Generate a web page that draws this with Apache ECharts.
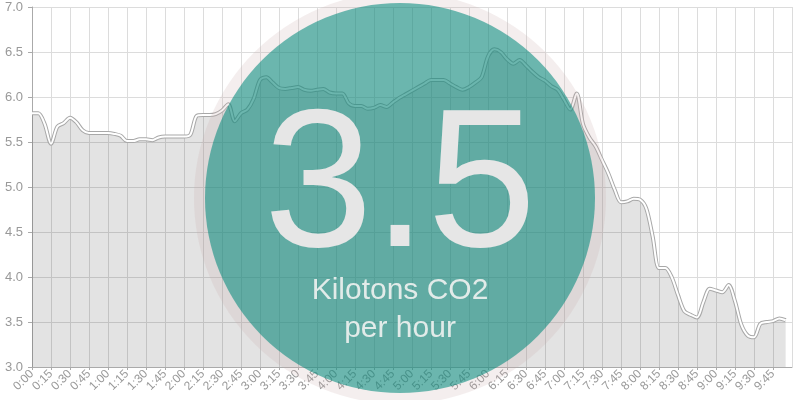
<!DOCTYPE html>
<html>
<head>
<meta charset="utf-8">
<script src="https://cdn.jsdelivr.net/npm/echarts@6/dist/echarts.min.js"></script>
<style>
html,body{margin:0;padding:0;background:#fff;}
#chart{width:800px;height:400px;}
</style>
</head>
<body>
<div id="chart"></div>
<script>
// minutes since 0:00, one reading every 5 minutes
var minutes=[];
for(var m=0;m<600;m+=5){ minutes.push(m); }

var co2=[
  5.82,5.82,5.70,5.48,5.67,5.71,5.77,5.72,5.63,5.60,
  5.60,5.60,5.60,5.59,5.57,5.51,5.51,5.53,5.53,5.52,
  5.55,5.56,5.56,5.56,5.56,5.58,5.79,5.80,5.80,5.81,
  5.85,5.92,5.73,5.82,5.86,5.98,6.19,6.22,6.16,6.10,
  6.09,6.10,6.11,6.08,6.07,6.08,6.09,6.05,6.04,6.04,
  5.93,5.90,5.90,5.87,5.88,5.91,5.89,5.94,5.99,6.03,
  6.07,6.11,6.15,6.19,6.19,6.19,6.15,6.11,6.08,6.11,
  6.16,6.22,6.45,6.53,6.50,6.42,6.37,6.41,6.35,6.28,
  6.22,6.18,6.12,6.08,5.97,5.86,6.04,5.70,5.55,5.45,
  5.30,5.15,4.97,4.83,4.84,4.87,4.86,4.76,4.45,4.10,
  4.10,4.00,3.80,3.62,3.58,3.55,3.72,3.87,3.85,3.83,
  3.91,3.73,3.47,3.35,3.33,3.48,3.50,3.51,3.54,3.52
];

var bigValue='3.5';
var unitLines=['Kilotons CO2','per hour'];

var pts=[];
for(var i=0;i<minutes.length;i++){
  pts.push([minutes[i],co2[i]]);
}

function p(s){ return s<10 ? '0'+s : s; }

var chart=echarts.init(document.getElementById('chart'));
var option={
  animation:false,
  backgroundColor:'#fff',
  grid:{left:32,right:8,top:7,bottom:33},
  xAxis:{
    type:'value',
    min:0,
    max:600,
    interval:15,
    axisLine:{lineStyle:{color:'#aaa'}},
    axisTick:{show:true,length:3,lineStyle:{color:'#aaa'}},
    splitLine:{show:true,lineStyle:{color:'#dcdcdc'}},
    axisLabel:{
      rotate:45,
      color:'#999',
      fontSize:12,
      fontFamily:'Liberation Sans',
      showMaxLabel:false,
      margin:5,
      formatter:function(v){ return Math.floor(v/60)+':'+p(v%60); }
    }
  },
  yAxis:{
    type:'value',
    min:3,
    max:7,
    interval:0.5,
    axisLine:{show:true,lineStyle:{color:'#aaa'}},
    axisTick:{show:true,length:4,lineStyle:{color:'#aaa'}},
    splitLine:{lineStyle:{color:'#dcdcdc'}},
    axisLabel:{
      color:'#999',
      fontSize:13,
      fontFamily:'Liberation Sans',
      margin:9,
      formatter:function(v){ return v.toFixed(1); }
    }
  },
  series:[{
    type:'line',
    data:pts,
    smooth:0.3,
    symbol:'none',
    lineStyle:{color:'#a8a8a8',width:4},
    areaStyle:{color:'rgba(0,0,0,0.11)',opacity:1}
  },{
    type:'line',
    data:pts,
    smooth:0.3,
    symbol:'none',
    lineStyle:{color:'#fff',width:2}
  }],
  graphic:[{
    type:'circle',
    shape:{cx:400,cy:198,r:206},
    style:{fill:'rgba(200,170,170,0.2)'},
    z:100
  },{
    type:'circle',
    shape:{cx:400,cy:198,r:195},
    style:{fill:'rgba(0,137,123,0.56)'},
    z:101
  },{
    type:'text',
    x:400,y:290,
    style:{text:bigValue,fill:'#e6e6e6',font:'196px "Liberation Sans"',textAlign:'center',textVerticalAlign:'bottom'},
    z:102
  },{
    type:'text',
    x:400,y:291,
    style:{text:unitLines[0],fill:'#e2ebe9',font:'30px "Liberation Sans"',textAlign:'center',textVerticalAlign:'middle'},
    z:102
  },{
    type:'text',
    x:400,y:329,
    style:{text:unitLines[1],fill:'#e2ebe9',font:'30px "Liberation Sans"',textAlign:'center',textVerticalAlign:'middle'},
    z:102
  }]
};
chart.setOption(option);
</script>
</body>
</html>
